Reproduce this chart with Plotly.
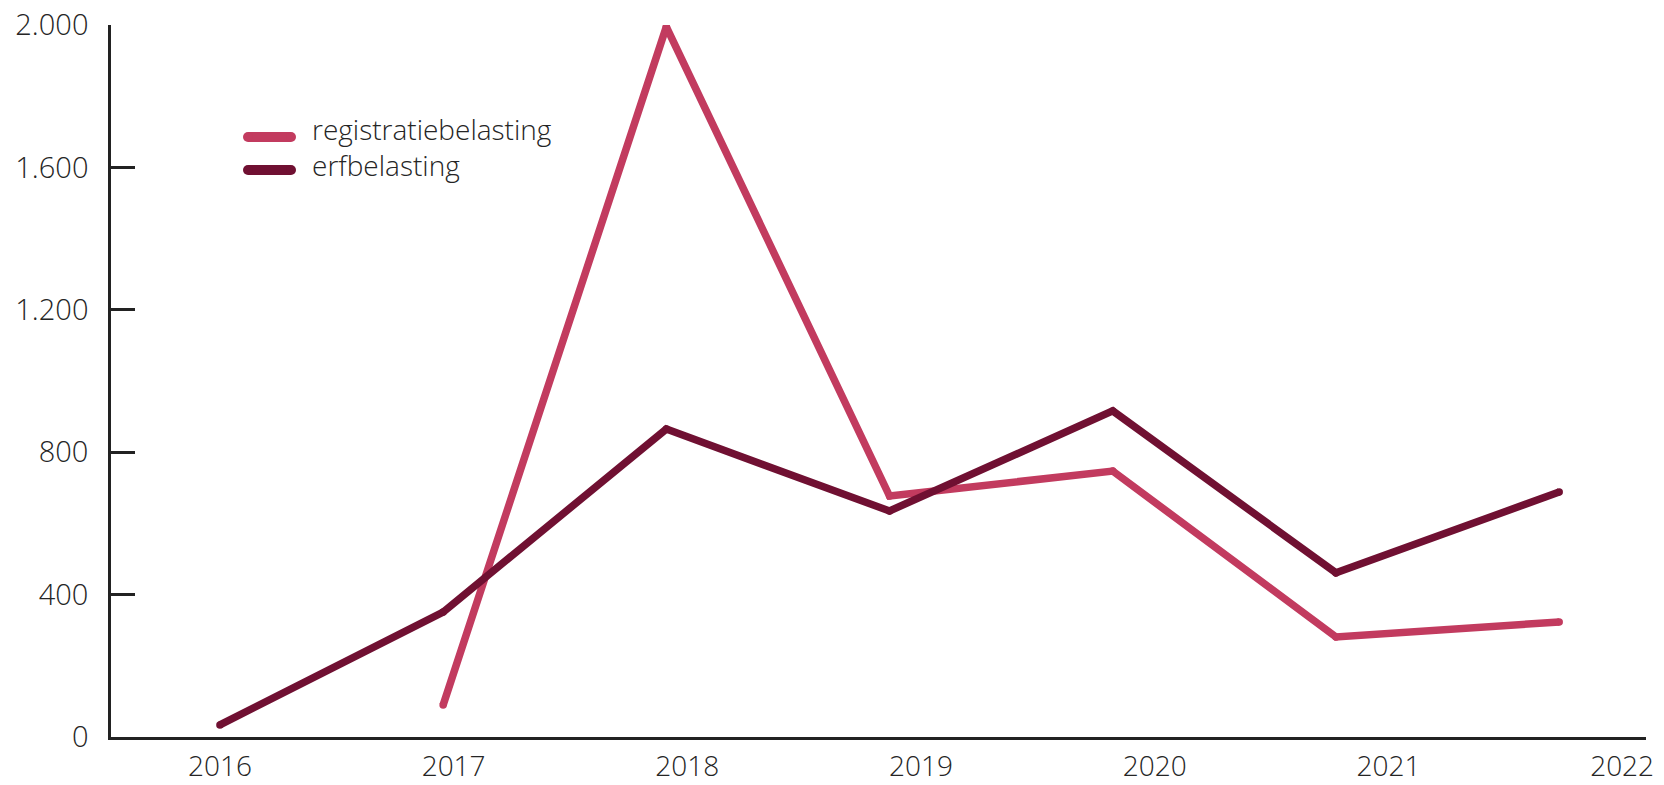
import plotly.graph_objects as go

years = [2016, 2017, 2018, 2019, 2020, 2021, 2022]
tick_labels = ["2016", "2017", "2018", "2019", "2020", "2021", "2022"]
reg_years = [2017, 2018, 2019, 2020, 2021, 2022]
registratiebelasting = [90, 1995, 677, 747, 281, 323]
erfbelasting = [34, 351, 865, 635, 916, 461, 688]
y_ticks = [0, 400, 800, 1200, 1600, 2000]
y_tick_text = ["0", "400", "800", "1.200", "1.600", "2.000"]
series_names = ["registratiebelasting", "erfbelasting"]

# label positions are slightly more spread than the data points in the original
label_pos = [2016 + 1.047 * i for i in range(len(years))]

REG = "#C23B5F"
ERF = "#701032"
TXT = "#252525"
AX = "#222222"
FONT = "Open Sans"
LW = 7.5

W, H = 1664, 785
ML, MR, MT, MB = 111, 18, 25, 48
PW, PH = W - ML - MR, H - MT - MB


def px(x):
    return (x - ML) / PW


def py(y):
    return (H - MB - y) / PH


fig = go.Figure()
fig.add_trace(go.Scatter(x=reg_years, y=registratiebelasting, mode="lines+markers",
                         name=series_names[0], showlegend=False,
                         line=dict(color=REG, width=LW),
                         marker=dict(color=REG, size=LW, line=dict(width=0))))
fig.add_trace(go.Scatter(x=years, y=erfbelasting, mode="lines+markers",
                         name=series_names[1], showlegend=False,
                         line=dict(color=ERF, width=LW),
                         marker=dict(color=ERF, size=LW, line=dict(width=0))))

# legend drawn as rounded swatches + text
shapes = []
annotations = []
for name, col, sy, ty in [(series_names[0], REG, 137, 129), (series_names[1], ERF, 170, 165)]:
    r = 5
    common = dict(xref="paper", yref="paper", xsizemode="pixel", ysizemode="pixel",
                  xanchor=px(243), yanchor=py(sy), fillcolor=col, line=dict(width=0),
                  layer="above")
    shapes.append(dict(type="rect", x0=r, x1=53 - r, y0=-r, y1=r, **common))
    shapes.append(dict(type="circle", x0=0, x1=2 * r, y0=-r, y1=r, **common))
    shapes.append(dict(type="circle", x0=53 - 2 * r, x1=53, y0=-r, y1=r, **common))
    annotations.append(dict(xref="paper", yref="paper", x=px(310), y=py(ty),
                            xanchor="left", yanchor="middle", showarrow=False,
                            text=name, font=dict(family=FONT, size=28, color=TXT, weight=300)))

fig.update_layout(
    width=W, height=H,
    margin=dict(l=ML, r=MR, t=MT, b=MB),
    paper_bgcolor="white", plot_bgcolor="white",
    font=dict(family=FONT, color=TXT, size=29, weight=300),
    showlegend=False,
    shapes=shapes, annotations=annotations,
    xaxis=dict(range=[2015.512, 2022.389], tickmode="array",
               tickvals=label_pos, ticktext=tick_labels, automargin=False,
               showgrid=False, zeroline=False, showline=True,
               linecolor=AX, linewidth=3, ticks="",
               ticklabelstandoff=2,
               tickfont=dict(family=FONT, size=28, color=TXT, weight=300)),
    yaxis=dict(range=[0, 2000], tickmode="array", tickvals=y_ticks,
               ticktext=y_tick_text, showgrid=False, zeroline=False, automargin=False,
               showline=True, linecolor=AX, linewidth=2.5,
               ticks="inside", ticklen=24, tickwidth=2.5, tickcolor=AX,
               ticklabelstandoff=14,
               tickfont=dict(family=FONT, size=29, color=TXT, weight=300)),
)

fig.write_html("out.html", config={"displayModeBar": False},
               post_script="document.body.style.margin='0';document.body.style.overflow='hidden';")
